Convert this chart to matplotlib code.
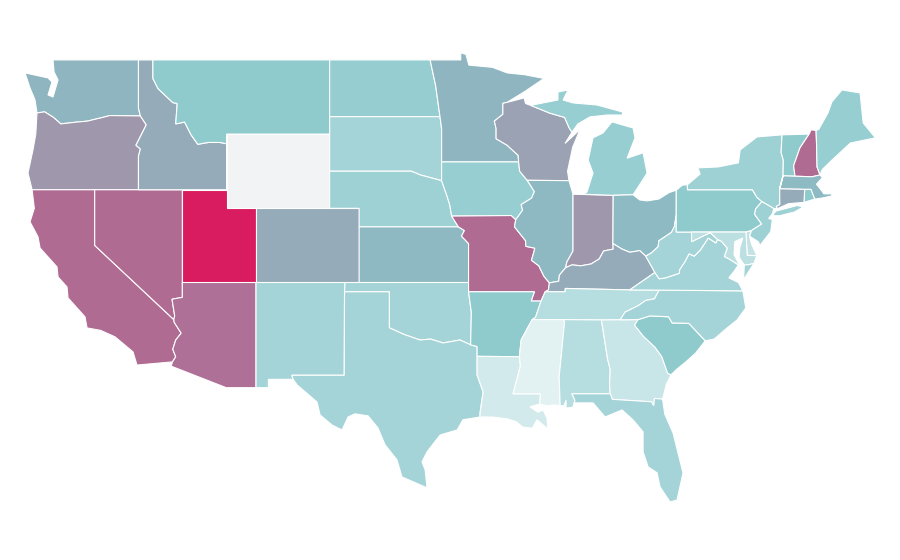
import matplotlib
matplotlib.use("Agg")
from matplotlib import pyplot as plt
from matplotlib.colors import LinearSegmentedColormap, Normalize

# value per state. nan = no data
states = ["WA", "OR", "CA", "NV", "ID", "MT", "WY", "UT", "AZ", "CO", "NM", "ND", "SD", "NE", "KS",
          "OK", "TX", "MN", "IA", "MO", "AR", "LA", "WI", "IL", "IN", "MI", "MI2", "OH", "KY", "TN",
          "MS", "AL", "GA", "FL", "SC", "NC", "VA", "WV", "PA", "NY", "LI", "NJ", "DE", "MD", "VT",
          "NH", "ME", "MA", "RI", "CT", "VA2"]
values = [38, 47, 66, 66, 44, 30, float("nan"), 100, 64, 44, 23, 28, 23, 25, 37,
          23, 23, 38, 27, 66, 30, 8, 45.5, 37, 47, 27, 27, 36, 44, 17,
          3, 17, 11, 23, 30, 23, 23, 23, 30, 25, 25, 25, 13, 15, 30,
          66, 27, 36, 30, 44, 23]

# shared borders, lon/lat
mn_wi = [(-92.01, 46.71), (-92.29, 46.66), (-92.29, 46.07), (-92.87, 45.7), (-92.75, 45.3), (-92.75, 44.75),
         (-92.0, 44.4), (-91.25, 43.85), (-91.22, 43.5)]
ia_wi = [(-91.22, 43.5), (-91.15, 43.0), (-90.64, 42.51)]
ia_il = [(-90.64, 42.51), (-90.15, 41.9), (-90.34, 41.55), (-91.05, 41.2), (-90.95, 40.9), (-91.42, 40.38)]
mo_il = [(-91.42, 40.38), (-91.5, 40.0), (-90.75, 39.25), (-90.73, 38.95), (-90.12, 38.85), (-90.2, 38.6),
         (-90.35, 38.2), (-89.85, 37.9), (-89.5, 37.33), (-89.13, 36.98)]
mo_ky = [(-89.13, 36.98), (-89.2, 36.6), (-89.42, 36.5)]
mo_tn = [(-89.42, 36.5), (-89.7, 36.0)]
ar_tn = [(-89.7, 36.0), (-90.07, 35.13), (-90.3, 35.0)]
ar_ms = [(-90.3, 35.0), (-90.58, 34.6), (-91.05, 33.9), (-91.17, 33.0)]
la_ms_river = [(-91.17, 33.0), (-91.1, 32.5), (-91.4, 31.6), (-91.6, 31.0)]
wv_oh = [(-80.52, 40.64), (-80.65, 40.0), (-80.85, 39.7), (-81.7, 39.25), (-81.75, 38.93), (-82.2, 38.6), (-82.59, 38.42)]
oh_ky = [(-82.59, 38.42), (-83.0, 38.72), (-83.67, 38.63), (-84.2, 38.8), (-84.82, 39.1)]
in_ky = [(-84.82, 39.1), (-84.8, 38.8), (-85.45, 38.7), (-85.75, 38.27), (-86.3, 38.0), (-87.0, 37.9), (-87.6, 37.95), (-88.03, 37.8)]
il_ky = [(-88.03, 37.8), (-88.45, 37.4), (-88.5, 37.07), (-89.13, 36.98)]
il_in = [(-88.03, 37.8), (-87.95, 38.1), (-87.53, 38.7), (-87.53, 39.35), (-87.53, 41.76)]
ky_tn = [(-89.42, 36.5), (-88.07, 36.5), (-88.05, 36.68), (-83.68, 36.6)]
ky_va = [(-83.68, 36.6), (-81.97, 37.54)]
ky_wv = [(-81.97, 37.54), (-82.59, 38.42)]
wv_va = [(-81.97, 37.54), (-81.68, 37.2), (-81.25, 37.25), (-80.3, 37.5), (-80.3, 37.68), (-79.95, 38.1),
         (-79.65, 38.55), (-79.3, 38.42), (-78.87, 38.77), (-78.35, 39.4), (-77.83, 39.13), (-77.72, 39.32)]
wv_md = [(-77.72, 39.32), (-78.2, 39.68), (-78.4, 39.62), (-79.48, 39.2), (-79.48, 39.72)]
va_md = [(-77.72, 39.32), (-77.45, 39.22), (-77.05, 38.85), (-77.25, 38.4), (-76.95, 38.28), (-76.3, 37.95)]
tn_nc = [(-81.68, 36.59), (-82.0, 36.12), (-82.6, 36.03), (-83.1, 35.75), (-84.0, 35.4), (-84.32, 34.99)]
nc_sc = [(-83.11, 35.0), (-82.3, 35.2), (-81.04, 35.15), (-80.8, 34.82), (-79.67, 34.8), (-78.55, 33.86)]
sc_ga = [(-83.11, 35.0), (-83.35, 34.7), (-82.75, 34.1), (-81.95, 33.5), (-81.5, 33.0), (-81.1, 32.1), (-80.87, 32.03)]
al_ga = [(-85.6, 34.98), (-85.18, 32.87), (-85.0, 32.3), (-85.05, 31.55), (-85.0, 31.0)]
fl_ga = [(-85.0, 31.0), (-84.86, 30.7), (-82.2, 30.57), (-82.05, 30.36), (-82.0, 30.75), (-81.45, 30.71)]
al_fl = [(-85.0, 31.0), (-87.6, 31.0), (-87.4, 30.65), (-87.52, 30.28)]
al_ms = [(-88.2, 35.0), (-88.1, 34.9), (-88.47, 31.9), (-88.4, 30.37)]
la_ms = [(-91.6, 31.0), (-89.73, 31.0), (-89.8, 30.45)]
la_coast = [(-89.8, 30.45), (-90.45, 30.3), (-89.9, 30.0), (-89.56, 30.13), (-89.3, 29.7), (-89.23, 29.1), (-89.97, 29.6),
            (-90.3, 29.15), (-90.92, 29.2), (-91.4, 29.5), (-92.0, 29.65), (-93.0, 29.75), (-93.84, 29.75)]
la_tx = [(-93.84, 29.75), (-93.84, 29.97), (-93.63, 31.1), (-94.04, 32.02), (-94.04, 33.02)]
ar_tx = [(-94.04, 33.02), (-94.04, 33.55), (-94.48, 33.64)]
ar_ok = [(-94.48, 33.64), (-94.43, 35.4), (-94.62, 36.5)]
red_river = [(-94.48, 33.64), (-95.2, 33.9), (-96.35, 33.74), (-97.2, 33.95), (-97.91, 33.9),
             (-99.0, 34.2), (-100.0, 34.56)]
nm_tx = [(-103.04, 36.5), (-103.06, 32.0), (-106.62, 32.0), (-106.53, 31.78)]
rio_grande = [(-106.53, 31.78), (-106.26, 31.48), (-104.91, 30.56), (-104.7, 29.86), (-103.89, 29.32), (-103.21, 29.05),
              (-102.8, 29.75), (-102.33, 29.92), (-101.44, 29.81), (-100.77, 29.16), (-100.29, 28.25),
              (-99.48, 27.44), (-99.14, 26.52), (-97.44, 25.93)]
tx_coast = [(-97.44, 25.93), (-97.57, 26.9), (-97.78, 27.33), (-97.44, 27.87), (-96.55, 28.78), (-95.4, 29.05), (-95.0, 29.6),
            (-93.84, 29.75)]
az_ca = [(-114.72, 32.72), (-114.5, 33.0), (-114.7, 33.4), (-114.5, 33.9), (-114.13, 34.27), (-114.6, 34.85), (-114.63, 35.0)]
az_nv = [(-114.63, 35.0), (-114.57, 35.2), (-114.75, 36.1), (-114.05, 36.2)]
or_id = [(-117.03, 42.0), (-117.03, 43.8), (-116.9, 44.2), (-117.2, 44.4), (-116.5, 45.5), (-116.9, 45.98)]
id_wa = [(-116.9, 45.98), (-117.03, 46.4), (-117.03, 49.0)]
or_wa = [(-116.9, 45.98), (-118.98, 46.0), (-119.3, 45.93), (-120.5, 45.7), (-121.2, 45.65), (-122.3, 45.55),
         (-122.8, 45.9), (-123.4, 46.2), (-123.92, 46.14)]
id_mt = [(-116.05, 49.0), (-116.05, 48.0), (-115.7, 47.45), (-114.7, 46.7), (-114.4, 46.65), (-114.5, 45.55),
         (-113.9, 45.65), (-113.45, 44.95), (-113.0, 44.45), (-112.3, 44.55), (-111.5, 44.55), (-111.05, 44.48)]
ne_sd = [(-104.05, 43.0), (-98.5, 43.0), (-97.9, 42.8), (-96.45, 42.49)]
ia_ne = [(-96.45, 42.49), (-96.1, 41.7), (-95.9, 41.2), (-95.77, 40.58)]
mo_ne = [(-95.77, 40.58), (-95.31, 40.0)]
ks_mo = [(-95.31, 40.0), (-94.9, 39.8), (-95.1, 39.5), (-94.62, 39.1), (-94.62, 37.0)]
mn_sd = [(-96.45, 43.5), (-96.45, 45.3), (-96.56, 45.94)]
mn_nd = [(-96.56, 45.94), (-96.85, 47.6), (-97.23, 49.0)]
wi_mi = [(-90.4, 46.55), (-89.1, 46.13), (-88.1, 45.9), (-87.8, 45.35), (-87.6, 45.1)]
pa_nj = [(-74.7, 41.36), (-75.13, 40.97), (-75.2, 40.68), (-74.72, 40.15), (-75.42, 39.8)]
ny_pa = [(-79.76, 42.27), (-79.76, 42.0), (-75.35, 42.0), (-75.05, 41.6), (-74.7, 41.36)]
oh_pa = [(-80.52, 41.98), (-80.52, 40.64)]
nj_de = [(-75.42, 39.8), (-75.55, 39.5)]
de_md = [(-75.79, 39.72), (-75.7, 38.46), (-75.05, 38.45)]
nh_me = [(-71.03, 45.2), (-71.0, 44.6), (-70.96, 43.23), (-70.76, 42.8)]
nh_vt = [(-71.5, 45.0), (-72.12, 44.26), (-72.55, 43.3), (-72.46, 42.73)]
ma_nh = [(-72.46, 42.73), (-71.3, 42.7), (-70.76, 42.8)]
ma_vt = [(-73.27, 42.75), (-72.46, 42.73)]
ny_vt = [(-73.34, 44.96), (-73.4, 44.0), (-73.25, 43.6), (-73.27, 42.75)]
ma_ny = [(-73.27, 42.75), (-73.5, 42.05)]
ct_ma = [(-73.5, 42.05), (-71.8, 42.02)]
ma_ri = [(-71.8, 42.02), (-71.38, 42.02), (-71.12, 41.5)]
ct_ri = [(-71.8, 42.02), (-71.85, 41.32)]
ct_ny = [(-73.5, 42.05), (-73.49, 41.2), (-73.73, 41.1), (-73.65, 40.98)]


def rev(line):
    return line[::-1]


def ring(*parts):
    pts = []
    for p in parts:
        pts.extend(p)
    return pts


outlines = {
    "WA": ring(id_wa, [(-122.83, 49.0), (-122.76, 48.35), (-122.49, 47.92), (-122.83, 47.0), (-123.17, 47.11), (-122.9, 47.81),
                       (-123.17, 48.03), (-124.73, 48.3), (-124.4, 47.5), (-124.05, 46.84)], rev(or_wa)),
    "OR": ring([(-124.25, 42.0)], or_id, or_wa, [(-124.0, 45.0), (-124.19, 44.15), (-124.53, 42.9)]),
    "CA": ring([(-124.25, 42.0), (-120.0, 42.0), (-120.0, 39.0)], rev(az_ca),
               [(-117.13, 32.55), (-117.4, 33.26), (-118.62, 34.07), (-119.6, 34.42), (-120.52, 34.55), (-120.66, 35.15),
                (-121.81, 36.17), (-121.88, 36.76), (-122.49, 37.3), (-122.56, 37.84), (-123.71, 38.86), (-123.85, 39.46),
                (-124.39, 40.27), (-124.1, 41.0)]),
    "NV": ring([(-120.0, 42.0), (-114.05, 42.0)], rev(az_nv), [(-120.0, 39.0)]),
    "ID": ring([(-117.03, 49.0)], id_mt, [(-111.05, 42.0)], or_id, id_wa),
    "MT": ring(id_mt[:1], [(-104.05, 49.0), (-104.05, 45.0), (-111.05, 45.0)], rev(id_mt)),
    "WY": [(-111.05, 45.0), (-104.05, 45.0), (-104.05, 41.0), (-111.05, 41.0)],
    "UT": [(-114.05, 42.0), (-111.05, 42.0), (-111.05, 41.0), (-109.05, 41.0), (-109.05, 37.0), (-114.05, 37.0)],
    "AZ": ring([(-114.05, 37.0), (-109.05, 37.0), (-109.05, 31.33), (-111.07, 31.33), (-114.81, 32.49)], az_ca, az_nv),
    "CO": [(-109.05, 41.0), (-102.05, 41.0), (-102.05, 37.0), (-109.05, 37.0)],
    "NM": ring([(-109.05, 37.0), (-103.0, 37.0)], nm_tx, [(-108.21, 31.78), (-108.21, 31.33), (-109.05, 31.33)]),
    "ND": ring([(-104.05, 49.0)], rev(mn_nd), [(-104.05, 45.94)]),
    "SD": ring([(-104.05, 45.94)], rev(mn_sd), rev(ne_sd)),
    "NE": ring(ne_sd, ia_ne, mo_ne, [(-102.05, 40.0), (-102.05, 41.0), (-104.05, 41.0)]),
    "KS": ring([(-102.05, 40.0)], ks_mo, [(-102.05, 37.0)]),
    "OK": ring([(-103.0, 37.0), (-94.62, 37.0)], rev(ar_ok), red_river, [(-100.0, 36.5), (-103.04, 36.5)]),
    "TX": ring(nm_tx, rio_grande, tx_coast, la_tx, ar_tx, red_river, [(-100.0, 36.5)]),
    "MN": ring([(-97.23, 49.0), (-95.15, 49.0), (-95.15, 49.38), (-94.8, 49.3), (-94.6, 48.72), (-93.0, 48.6),
                (-92.0, 48.3), (-90.8, 48.2), (-89.5, 48.0), (-90.8, 47.3)], mn_wi, mn_sd, mn_nd),
    "IA": ring([(-96.45, 43.5)], ia_wi, ia_il, [(-91.73, 40.61)], rev(ia_ne)),
    "MO": ring([(-95.77, 40.58), (-91.73, 40.61)], mo_il, mo_ky, mo_tn, [(-90.37, 36.0), (-90.15, 36.5), (-94.62, 36.5)], rev(ks_mo), rev(mo_ne)),
    "AR": ring([(-94.62, 36.5), (-90.15, 36.5), (-90.37, 36.0)], ar_tn, ar_ms, [(-94.04, 33.02)], ar_tx[1:], ar_ok),
    "LA": ring([(-94.04, 33.02)], la_ms_river, la_ms, la_coast, la_tx),
    "WI": ring([(-92.01, 46.71), (-90.85, 46.95), (-90.75, 46.65)], wi_mi,
               [(-88.07, 44.5), (-87.05, 45.25), (-87.55, 44.3), (-87.9, 43.0), (-87.8, 42.49)], rev(ia_wi), rev(mn_wi)),
    "IL": ring([(-90.64, 42.51), (-87.8, 42.49)], rev(il_in), il_ky, rev(mo_il), rev(ia_il)),
    "IN": ring([(-87.53, 41.76), (-84.8, 41.7)], in_ky, il_in),
    "MI": ring([(-86.82, 41.76), (-86.58, 41.88), (-86.17, 42.9), (-86.5, 43.6), (-86.17, 44.8), (-85.5, 45.06), (-84.88, 45.66),
                (-83.45, 45.33), (-83.32, 44.8), (-83.86, 43.7), (-82.77, 43.99), (-82.5, 42.9), (-82.9, 42.4), (-83.45, 41.73), (-84.8, 41.7)]),
    "MI2": ring(wi_mi, [(-87.2, 45.55), (-86.37, 45.93), (-85.2, 46.03), (-84.13, 46.03), (-84.2, 46.2), (-85.9, 46.57), (-87.53, 46.68),
                        (-88.2, 46.84), (-87.87, 47.38), (-88.55, 47.27), (-88.55, 46.84)]),
    "OH": ring([(-84.8, 41.7), (-83.45, 41.73), (-83.0, 41.45), (-82.5, 41.4), (-81.7, 41.5), (-81.0, 41.85)], oh_pa, wv_oh, oh_ky),
    "KY": ring(rev(mo_ky), rev(il_ky), rev(in_ky), rev(oh_ky), rev(ky_wv), rev(ky_va), rev(ky_tn)),
    "TN": ring(ky_tn, [(-81.68, 36.59)], tn_nc, [(-85.6, 34.98), (-88.2, 35.0)], rev(ar_tn), rev(mo_tn)),
    "MS": ring([(-90.3, 35.0), (-88.2, 35.0)], al_ms[1:], [(-88.9, 30.4), (-89.3, 30.35)], rev(la_ms), rev(la_ms_river), rev(ar_ms)),
    "AL": ring(al_ga, al_fl, [(-88.0, 30.23), (-88.0, 30.65), (-88.15, 30.35)], rev(al_ms)),
    "GA": ring([(-85.6, 34.98), (-84.32, 34.99)], sc_ga, [(-81.2, 31.5)], rev(fl_ga), rev(al_ga)),
    "FL": ring(rev(al_fl), fl_ga[1:], [(-81.3, 29.9), (-80.74, 28.89), (-80.06, 26.73), (-80.47, 25.27), (-80.94, 25.17), (-81.62, 25.98),
                                       (-81.82, 26.74), (-82.43, 27.06), (-82.77, 27.87), (-82.77, 28.95), (-83.45, 29.59),
                                       (-84.2, 30.13), (-85.35, 29.75), (-86.17, 30.51), (-87.39, 30.51)]),
    "SC": ring(nc_sc, [(-79.2, 33.2), (-79.9, 32.7), (-80.45, 32.35)], rev(sc_ga)),
    "NC": ring(rev(tn_nc), [(-76.0, 36.55), (-75.8, 35.63), (-76.39, 34.98), (-77.07, 34.55), (-77.95, 33.95)], rev(nc_sc)),
    "VA": ring(ky_va, wv_va, va_md, [(-76.6, 37.6), (-76.95, 37.25), (-76.3, 37.0), (-76.0, 36.55), (-81.68, 36.59)]),
    "VA2": [(-75.65, 37.95), (-75.25, 38.03), (-75.95, 37.15), (-75.9, 37.95)],
    "WV": ring(wv_oh[:1], [(-80.52, 39.72), (-79.48, 39.72)], rev(wv_md), rev(wv_va), ky_wv, rev(wv_oh)),
    "PA": ring(oh_pa[:1], [(-80.1, 42.25)], ny_pa, pa_nj, [(-75.79, 39.72), (-80.52, 39.72)], oh_pa[1:]),
    "NY": ring([(-79.76, 42.27), (-78.9, 42.85), (-79.05, 43.18), (-77.68, 43.23), (-76.3, 43.45), (-76.18, 44.15), (-75.03, 44.85)],
               ny_vt, ma_ny, ct_ny, [(-73.9, 40.99)], rev(ny_pa)),
    "LI": [(-74.0, 40.6), (-73.75, 40.85), (-72.3, 41.15), (-71.9, 41.07), (-72.5, 40.8), (-73.5, 40.6)],
    "NJ": ring([(-74.7, 41.36), (-73.9, 40.99), (-74.0, 40.7), (-74.25, 40.45), (-74.0, 40.4), (-74.1, 39.75), (-74.83, 39.0), (-74.95, 39.2)], nj_de[::-1], rev(pa_nj)),
    "DE": ring([(-75.79, 39.72)], nj_de, [(-75.4, 39.05)], de_md[::-1]),
    "MD": ring(rev(wv_md)[:1], de_md, [(-75.25, 38.03), (-75.65, 37.95), (-75.9, 37.95), (-76.25, 38.35), (-76.2, 38.9), (-76.0, 39.4),
                                       (-76.55, 39.2), (-76.6, 38.5), (-76.3, 38.05)], rev(va_md), wv_md),
    "VT": ring(ny_vt[:1], nh_vt, rev(ma_vt), rev(ny_vt)),
    "NH": ring([(-71.37, 45.23)], nh_me, rev(ma_nh), rev(nh_vt)),
    "ME": ring(nh_me[:1], [(-70.85, 45.25), (-70.22, 46.14), (-69.95, 46.74), (-69.27, 47.38), (-68.04, 47.22), (-67.83, 45.6), (-67.0, 44.8),
                           (-68.7, 44.52), (-69.95, 43.6), (-70.6, 43.1)], rev(nh_me)),
    "MA": ring(ct_ma, ma_ri, [(-70.65, 41.55), (-69.95, 41.67), (-70.0, 42.05), (-70.0, 41.78), (-70.5, 41.78), (-70.65, 41.95),
                              (-71.0, 42.3), (-70.6, 42.65)], rev(ma_nh), rev(ma_vt), rev(ma_ny)),
    "RI": ring(ma_ri, rev(ct_ri)),
    "CT": ring(ct_ma, ct_ri, [(-72.9, 41.25)], rev(ct_ny)),
}

cmap = LinearSegmentedColormap.from_list(
    "teal_pink", [(0, "#eaf5f6"), (0.3, "#8ecacd"), (0.38, "#8eb5c0"), (0.44, "#96abba"),
                  (0.47, "#9f98ad"), (0.66, "#b06b93"), (1, "#d91b5f")])
cmap.set_bad("#f2f3f5")
norm = Normalize(0, 100)

fig = plt.figure(figsize=(9, 5.6), dpi=100)
ax = fig.add_axes([0, 0, 1, 1])

for s, v in zip(states, values):
    lon, lat = zip(*outlines[s])
    ax.fill(lon, lat, facecolor=cmap(norm(v)), edgecolor="white", linewidth=0.8)

# plate carree with different x and y scales, fitted to the canvas
ax.set_xlim(-126.43, -65.33)
ax.set_ylim(22.04, 52.23)
ax.axis("off")

fig.savefig("out.png", dpi=100)
